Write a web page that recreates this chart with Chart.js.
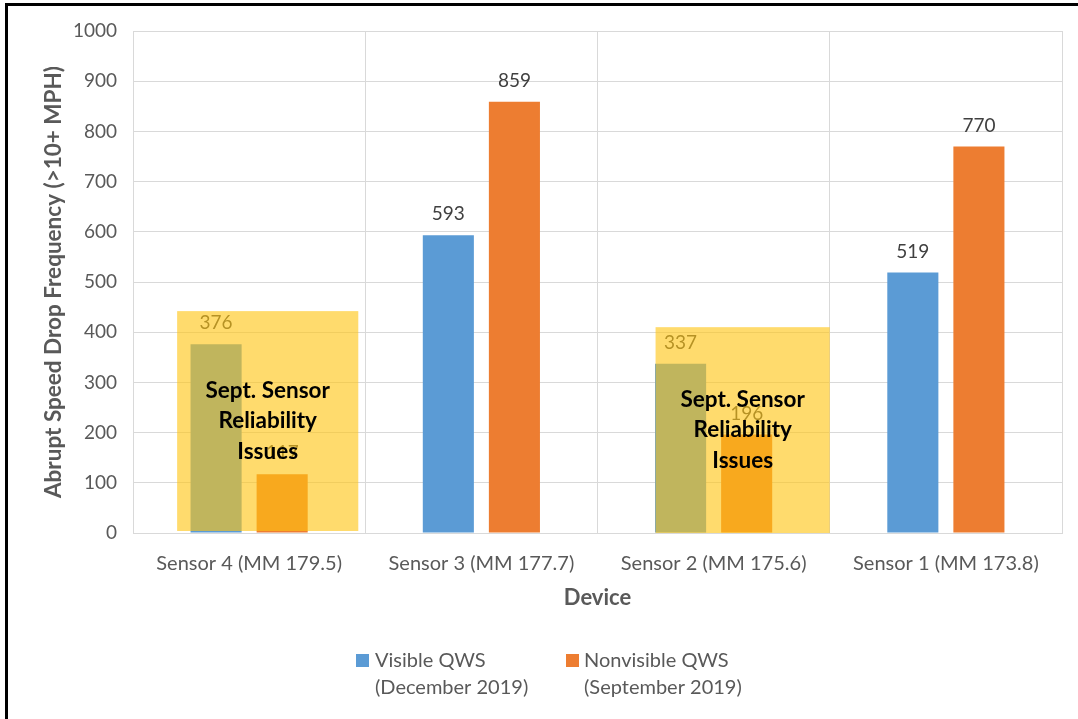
<!DOCTYPE html>
<html>
<head>
<meta charset="utf-8">
<script src="https://cdn.jsdelivr.net/npm/chart.js@4"></script>
<style>
  html, body { margin: 0; padding: 0; background: #fff; }
  #wrap { position: relative; width: 1078px; height: 719px; }
  #frame { position: absolute; left: 5px; top: 3px; right: 0; bottom: 0; border-left: 3px solid #000; border-top: 3px solid #000; pointer-events: none; }
  canvas { position: absolute; left: 0; top: 0; }
</style>
</head>
<body>
<div id="wrap">
  <canvas id="c" width="1078" height="719"></canvas>
  <div id="frame"></div>
</div>
<script>
const categories = ['Sensor 4 (MM 179.5)', 'Sensor 3 (MM 177.7)', 'Sensor 2 (MM 175.6)', 'Sensor 1 (MM 173.8)'];
const visibleDec2019 = [376, 593, 337, 519];
const nonvisibleSep2019 = [117, 859, 196, 770];
const seriesLabels = [['Visible QWS', '(December 2019)'], ['Nonvisible QWS', '(September 2019)']];
const seriesColors = ['#5B9BD5', '#ED7D31'];
const yTicks = [0, 100, 200, 300, 400, 500, 600, 700, 800, 900, 1000];
// annotation boxes: category index, x extents (in category units), value extents
const noteText = ['Sept. Sensor', 'Reliability', 'Issues'];
const noteBoxes = [
  { cat: 0, from: -0.31, to: 0.47, yLow: 4, yHigh: 442 },
  { cat: 2, from: -0.25, to: 0.50, yLow: 0, yHigh: 410 }
];

const FONT = 'Lato, "Open Sans", sans-serif';
const TXT = '#595959';

const labelsPlugin = {
  id: 'valueLabels',
  afterDatasetsDraw(chart) {
    const ctx = chart.ctx;
    ctx.save();
    ctx.font = '19px ' + FONT;
    ctx.fillStyle = '#404040';
    ctx.textAlign = 'center';
    ctx.textBaseline = 'middle';
    chart.data.datasets.forEach((ds, i) => {
      chart.getDatasetMeta(i).data.forEach((bar, j) => {
        ctx.fillText(String(ds.data[j]), bar.x, bar.y - 21);
      });
    });
    ctx.restore();
  }
};

const overlayPlugin = {
  id: 'overlay',
  afterDatasetsDraw(chart) {
    const ctx = chart.ctx;
    const xs = chart.scales.x, ys = chart.scales.y;
    const catW = (xs.right - xs.left) / categories.length;
    ctx.save();
    noteBoxes.forEach(b => {
      const cx = xs.getPixelForValue(b.cat);
      const x1 = cx + b.from * catW, x2 = cx + b.to * catW;
      const y1 = ys.getPixelForValue(b.yHigh), y2 = ys.getPixelForValue(b.yLow);
      ctx.fillStyle = 'rgba(255,197,20,0.62)';
      ctx.fillRect(x1, y1, x2 - x1, y2 - y1);
      ctx.fillStyle = '#000';
      ctx.font = 'bold 22.5px ' + FONT;
      ctx.textAlign = 'center';
      ctx.textBaseline = 'middle';
      const mx = (x1 + x2) / 2, my = (y1 + y2) / 2;
      const lh = 30.5;
      noteText.forEach((t, k) => {
        ctx.fillText(t, mx, my + (k - 1) * lh);
      });
    });
    ctx.restore();
  }
};

const legendPlugin = {
  id: 'customLegend',
  afterDraw(chart) {
    const ctx = chart.ctx;
    ctx.save();
    ctx.font = '20px ' + FONT;
    ctx.textBaseline = 'middle';
    const items = [{ box: 356, text: 375 }, { box: 566, text: 584 }];
    chart.data.datasets.forEach((ds, i) => {
      const it = items[i];
      ctx.fillStyle = ds.backgroundColor;
      ctx.fillRect(it.box, 654, 13, 13);
      ctx.fillStyle = TXT;
      ds.label.forEach((line, k) => ctx.fillText(line, it.text, 661 + k * 27));
    });
    ctx.restore();
  }
};

new Chart(document.getElementById('c'), {
  type: 'bar',
  data: {
    labels: categories,
    datasets: [
      { label: seriesLabels[0], data: visibleDec2019, backgroundColor: seriesColors[0] },
      { label: seriesLabels[1], data: nonvisibleSep2019, backgroundColor: seriesColors[1] }
    ]
  },
  options: {
    responsive: false,
    animation: false,
    devicePixelRatio: 1,
    layout: { padding: { left: 40, top: 31, right: 16, bottom: 108 } },
    datasets: { bar: { categoryPercentage: 0.569, barPercentage: 0.773 } },
    plugins: { legend: { display: false }, tooltip: { enabled: false } },
    scales: {
      x: {
        grid: { color: '#D9D9D9', drawTicks: false, offset: true },
        border: { color: '#D9D9D9' },
        ticks: { color: TXT, font: { family: FONT, size: 20 }, padding: 19 },
        title: { display: true, text: 'Device', color: TXT, font: { family: FONT, size: 22, weight: 'bold' }, padding: 0 },
        afterFit(s) { s.height = 78; }
      },
      y: {
        min: 0, max: 1000,
        afterBuildTicks(s) { s.ticks = yTicks.map(v => ({ value: v })); },
        grid: { color: '#D9D9D9', drawTicks: false },
        border: { color: '#D9D9D9' },
        ticks: { color: TXT, font: { family: FONT, size: 19 }, padding: 16, callback: v => String(v) },
        title: { display: true, text: 'Abrupt Speed Drop Frequency (>10+ MPH)', color: TXT, font: { family: FONT, size: 22.5, weight: 'bold' }, padding: 0 },
        afterFit(s) { s.width = 93; }
      }
    }
  },
  plugins: [labelsPlugin, overlayPlugin, legendPlugin]
});
</script>
</body>
</html>
